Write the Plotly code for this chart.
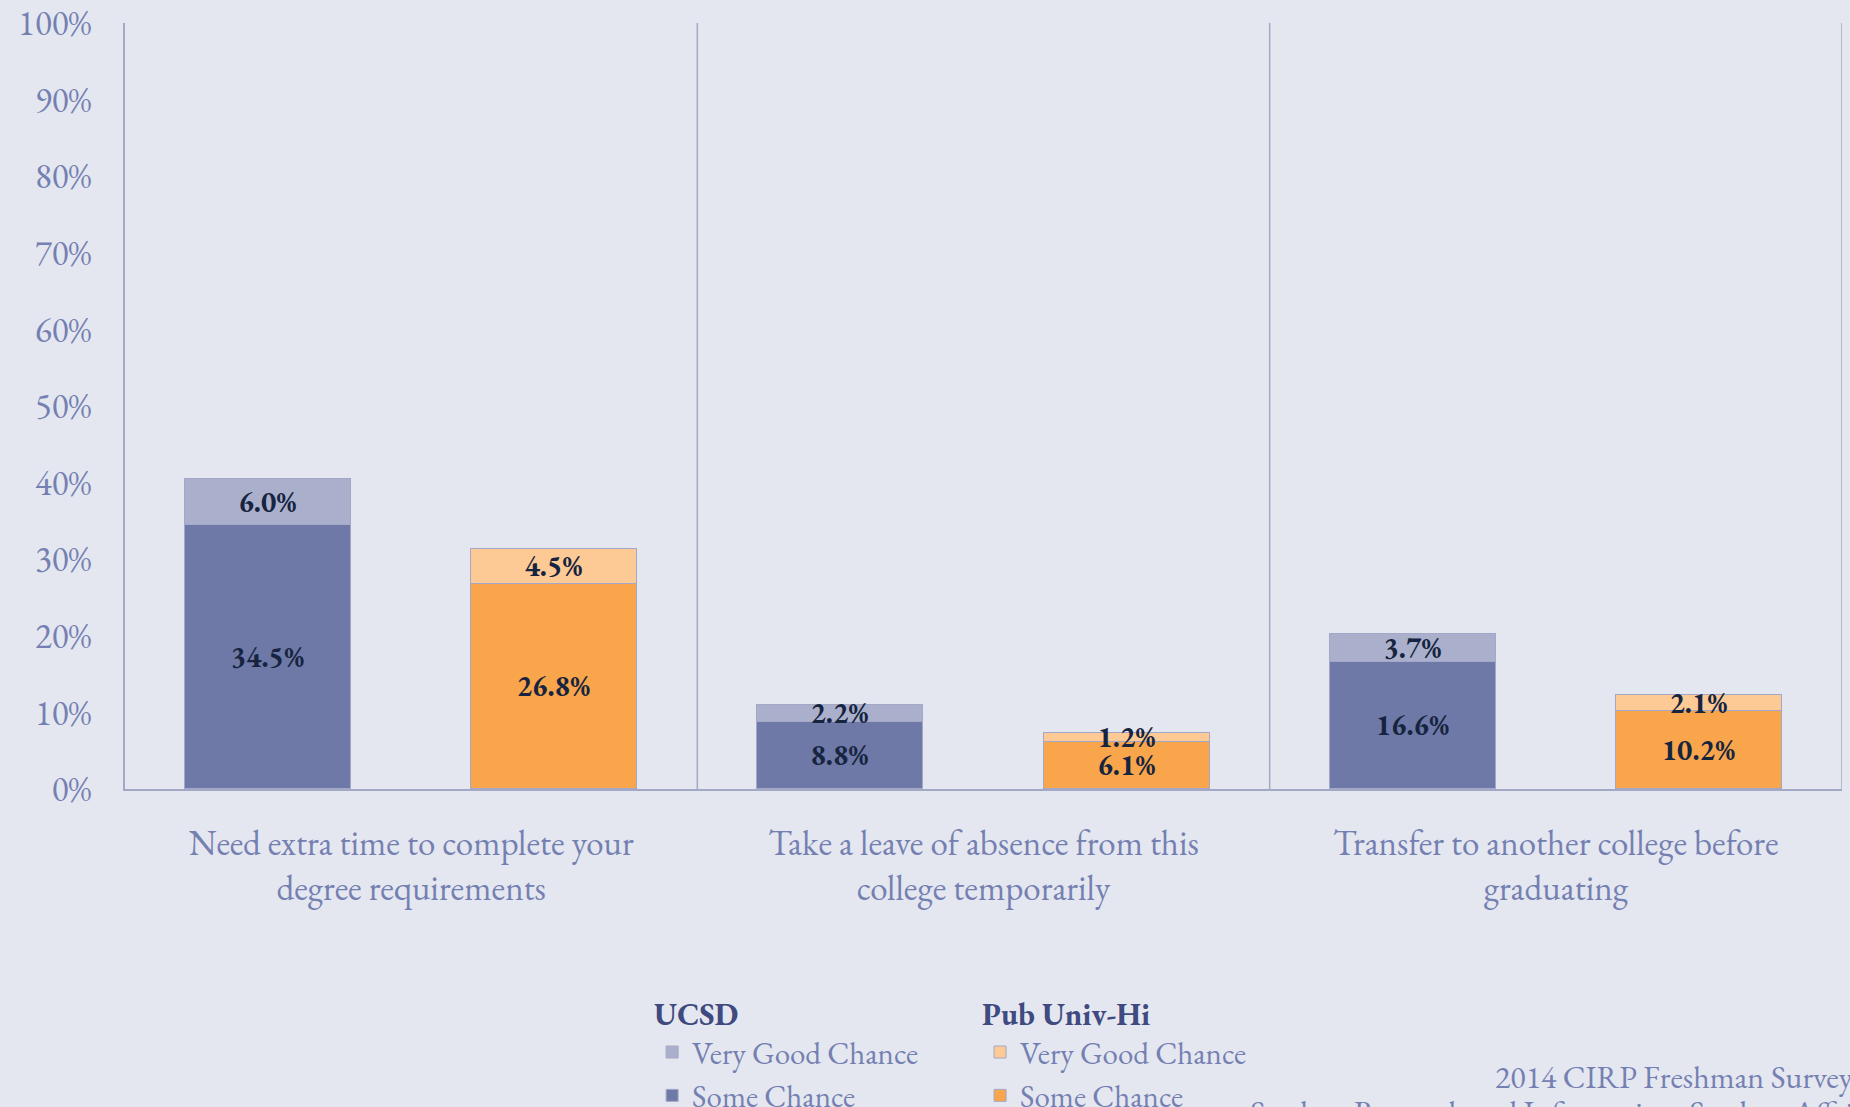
import plotly.graph_objects as go

# Survey items (x-axis categories)
categories = [
    "Need extra time to complete your<br>degree requirements",
    "Take a leave of absence from this<br>college temporarily",
    "Transfer to another college before<br>graduating",
]

# Percent of respondents
ucsd_some = [34.5, 8.8, 16.6]
ucsd_very_good = [6.0, 2.2, 3.7]
pub_some = [26.8, 6.1, 10.2]
pub_very_good = [4.5, 1.2, 2.1]

y_ticks = [0, 10, 20, 30, 40, 50, 60, 70, 80, 90, 100]
y_tick_labels = [f"{v}%" for v in y_ticks]

SERIF = "Garamond, 'EB Garamond', 'Liberation Serif', 'Times New Roman', serif"
BG = "#E4E7F0"
AXIS = "#A3A8C5"
TICK_COLOR = "#7580B2"
LABEL_COLOR = "#16243F"

idx = list(range(len(categories)))
x_ucsd = [i - 0.25 for i in idx]
x_pub = [i + 0.25 for i in idx]
BAR_W = 0.29

fig = go.Figure()


def add_bar(x, y, color, name, legend):
    fig.add_trace(go.Bar(
        x=x, y=y, width=BAR_W, name=name, legend=legend,
        marker=dict(color=color, line=dict(color="#A3A8C8", width=1)),
        text=[f"{v:.1f}%" for v in y],
        textposition="inside", insidetextanchor="middle", textangle=0,
        textfont=dict(family=SERIF, size=29, color=LABEL_COLOR, weight="bold"),
        hoverinfo="skip",
    ))


# Stacked: "Some Chance" at the bottom, "Very Good Chance" on top
add_bar(x_ucsd, ucsd_some, "#6E79A7", "Some Chance", "legend")
add_bar(x_ucsd, ucsd_very_good, "#AAB0CC", "Very Good Chance", "legend")
add_bar(x_pub, pub_some, "#F8A54B", "Some Chance", "legend2")
add_bar(x_pub, pub_very_good, "#FDCA95", "Very Good Chance", "legend2")

# Category dividers
for xv in [0.5, 1.5, 2.5]:
    fig.add_shape(type="line", xref="x", yref="y", x0=xv, x1=xv, y0=0, y1=100,
                  line=dict(color=AXIS, width=1.5), layer="below")

legend_common = dict(
    orientation="v", traceorder="reversed", bgcolor="rgba(0,0,0,0)",
    font=dict(family=SERIF, size=31, color=TICK_COLOR),
    yanchor="top", xanchor="left", itemclick=False, itemdoubleclick=False,
    tracegroupgap=0,
)
title_font = dict(family=SERIF, size=31, color="#3F4A80", weight="bold")

fig.update_layout(
    width=1850, height=1107,
    paper_bgcolor=BG, plot_bgcolor=BG,
    margin=dict(l=125, r=8, t=23, b=318, autoexpand=False),
    barmode="stack",
    bargap=0,
    uniformtext=dict(minsize=29, mode="show"),
    showlegend=True,
    legend=dict(**legend_common, x=0.307, y=-0.256,
                title=dict(text="UCSD", font=title_font)),
    legend2=dict(**legend_common, x=0.498, y=-0.256,
                 title=dict(text="Pub Univ-Hi", font=title_font)),
    xaxis=dict(
        range=[-0.5, 2.5], tickmode="array", tickvals=idx, ticktext=categories,
        showgrid=False, zeroline=False, showline=True, linecolor=AXIS, linewidth=1.5,
        ticks="outside", ticklen=22, tickcolor="rgba(0,0,0,0)",
        tickfont=dict(family=SERIF, size=35, color=TICK_COLOR),
    ),
    yaxis=dict(
        range=[0, 100], tickmode="array", tickvals=y_ticks, ticktext=y_tick_labels,
        showgrid=False, zeroline=False, showline=True, linecolor=AXIS, linewidth=1.5,
        ticks="outside", ticklen=25, tickcolor="rgba(0,0,0,0)",
        tickfont=dict(family=SERIF, size=35, color=TICK_COLOR),
    ),
)

# Source note, bottom right
note_font = dict(family=SERIF, size=32, color=TICK_COLOR)
fig.add_annotation(
    text="2014 CIRP Freshman Survey", xref="paper", yref="paper",
    x=0.797, y=-0.376, xanchor="left", yanchor="middle", showarrow=False,
    font=note_font,
)
fig.add_annotation(
    text="Student Research and Information, Student Affairs", xref="paper", yref="paper",
    x=0.654, y=-0.422, xanchor="left", yanchor="middle", showarrow=False,
    font=note_font,
)

fig.write_html("out.html")
